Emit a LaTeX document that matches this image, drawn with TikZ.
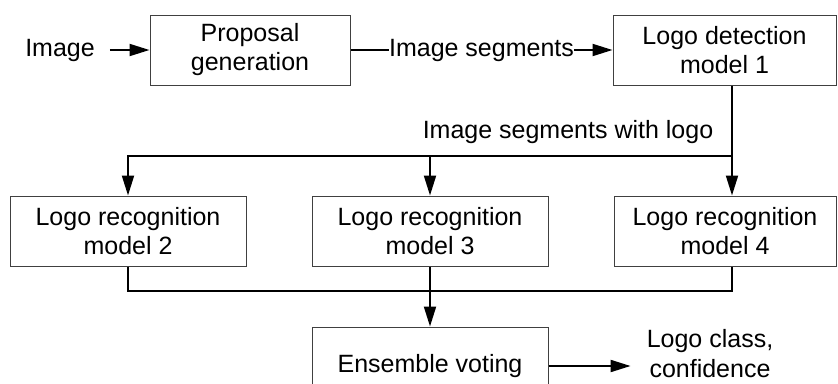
\documentclass[tikz,border=0pt]{standalone}
\usepackage{fontspec}
\setmainfont{Liberation Sans}
\usetikzlibrary{arrows.meta}
\definecolor{boxgray}{HTML}{404040}
\begin{document}
\begin{tikzpicture}[x=1pt,y=-1pt,
  every node/.style={font=\fontsize{25}{29}\selectfont, align=center},
  box/.style={draw=boxgray, line width=1pt, rectangle, minimum height=70pt, inner sep=0pt},
  lbl/.style={inner sep=0pt},
  conn/.style={line width=2pt},
  arr/.style={conn, -{Triangle[length=20pt,width=12pt]}}]
\useasboundingbox (0,0) rectangle (838,383);
\clip (0,0) rectangle (838,383);
\node[lbl, inner xsep=15pt] (img) at (60,50) {Image};
\node[box, minimum width=200pt] (prop) at (250,50) {Proposal\\generation};
\node[lbl] (seg) at (481.5,50) {Image segments};
\node[box, minimum width=223pt] (det) at (724.5,50) {Logo detection\\model 1};
\node[lbl] (withlogo) at (568,132) {Image segments with logo};
\node[box, minimum width=236pt] (r2) at (128,231) {Logo recognition\\model 2};
\node[box, minimum width=236pt] (r3) at (430,231) {Logo recognition\\model 3};
\node[box, minimum width=222pt] (r4) at (725,231) {Logo recognition\\model 4};
\node[box, minimum width=236pt, minimum height=78pt] (ens) at (430,366) {Ensemble voting};
\node[lbl, inner xsep=16pt, font=\fontsize{25}{30}\selectfont] (out) at (710,354) {Logo class,\\confidence};
\coordinate (j1) at (732,156);
\coordinate (j2) at (732,291);
\draw[arr] (img.east) -- (prop.west);
\draw[conn] (prop.east) -- (seg.west);
\draw[arr] (seg.east) -- (det.west);
\draw[arr] (det.south -| j1) -- (r4.north -| j1);
\draw[arr] (j1) -| (r2.north);
\draw[arr] (r3.north |- j1) -- (r3.north);
\draw[conn] (r2.south) |- (j2) -- (r4.south -| j2);
\draw[arr] (r3.south) -- (ens.north);
\draw[arr] (ens.east) -- (out.west |- ens.east);
\end{tikzpicture}
\end{document}
